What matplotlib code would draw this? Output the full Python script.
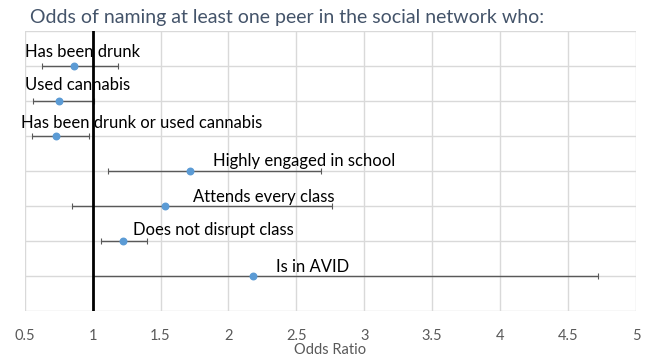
import matplotlib.pyplot as plt
import numpy as np

labels = ['Has been drunk', 'Used cannabis', 'Has been drunk or used cannabis',
          'Highly engaged in school', 'Attends every class', 'Does not disrupt class',
          'Is in AVID']
odds = [0.86, 0.755, 0.73, 1.72, 1.53, 1.22, 2.18]
ci_low = [0.625, 0.563, 0.556, 1.11, 0.846, 1.063, 1.0]
ci_high = [1.19, 1.01, 0.975, 2.68, 2.76, 1.40, 4.72]

# label placement (start x in data units, baseline offset above the row)
label_x = [0.5, 0.5, 0.475, 1.885, 1.74, 1.30, 2.35]
label_dy = [0.25, 0.31, 0.23, 0.14, 0.11, 0.17, 0.11]

plt.rcParams['font.family'] = ['Lato', 'DejaVu Sans']

fig = plt.figure(figsize=(6.58, 3.58), dpi=100)
ax = fig.add_axes([24.7 / 658, 1 - 311 / 358, (636 - 24.7) / 658, 280 / 358])

y = np.arange(len(labels), 0, -1)
odds = np.array(odds)
err = [odds - np.array(ci_low), np.array(ci_high) - odds]

ax.errorbar(odds, y, xerr=err, fmt='none', ecolor='#595959', elinewidth=1,
            capsize=2.5, capthick=0.8, zorder=3)
ax.scatter(odds, y, s=22, color='#5B9BD5', zorder=4)
ax.axvline(1, color='black', lw=2, zorder=5)

for lx, dy, yy, lab in zip(label_x, label_dy, y, labels):
    ax.text(lx, yy + dy, lab, fontsize=12, va='baseline', ha='left', color='black', zorder=6)

ax.set_xlim(0.5, 5)
ax.set_ylim(0, 8)
ax.set_xticks(np.arange(0.5, 5.01, 0.5))
ax.set_xticklabels(['0.5', '1', '1.5', '2', '2.5', '3', '3.5', '4', '4.5', '5'])
ax.set_yticks(np.arange(0, 9))
ax.set_yticklabels([])
ax.tick_params(axis='both', length=0, colors='#595959', labelsize=10.5, pad=13)
ax.grid(True, color='#d9d9d9', lw=1)
ax.set_axisbelow(True)
for s in ax.spines.values():
    s.set_visible(False)

ax.set_xlabel('Odds Ratio', fontsize=10.5, color='#595959', labelpad=0)
fig.text(30 / 658, 1 - 17 / 358, 'Odds of naming at least one peer in the social network who:',
         fontsize=14, color='#44546A', va='center', ha='left')

plt.savefig('out.png')
